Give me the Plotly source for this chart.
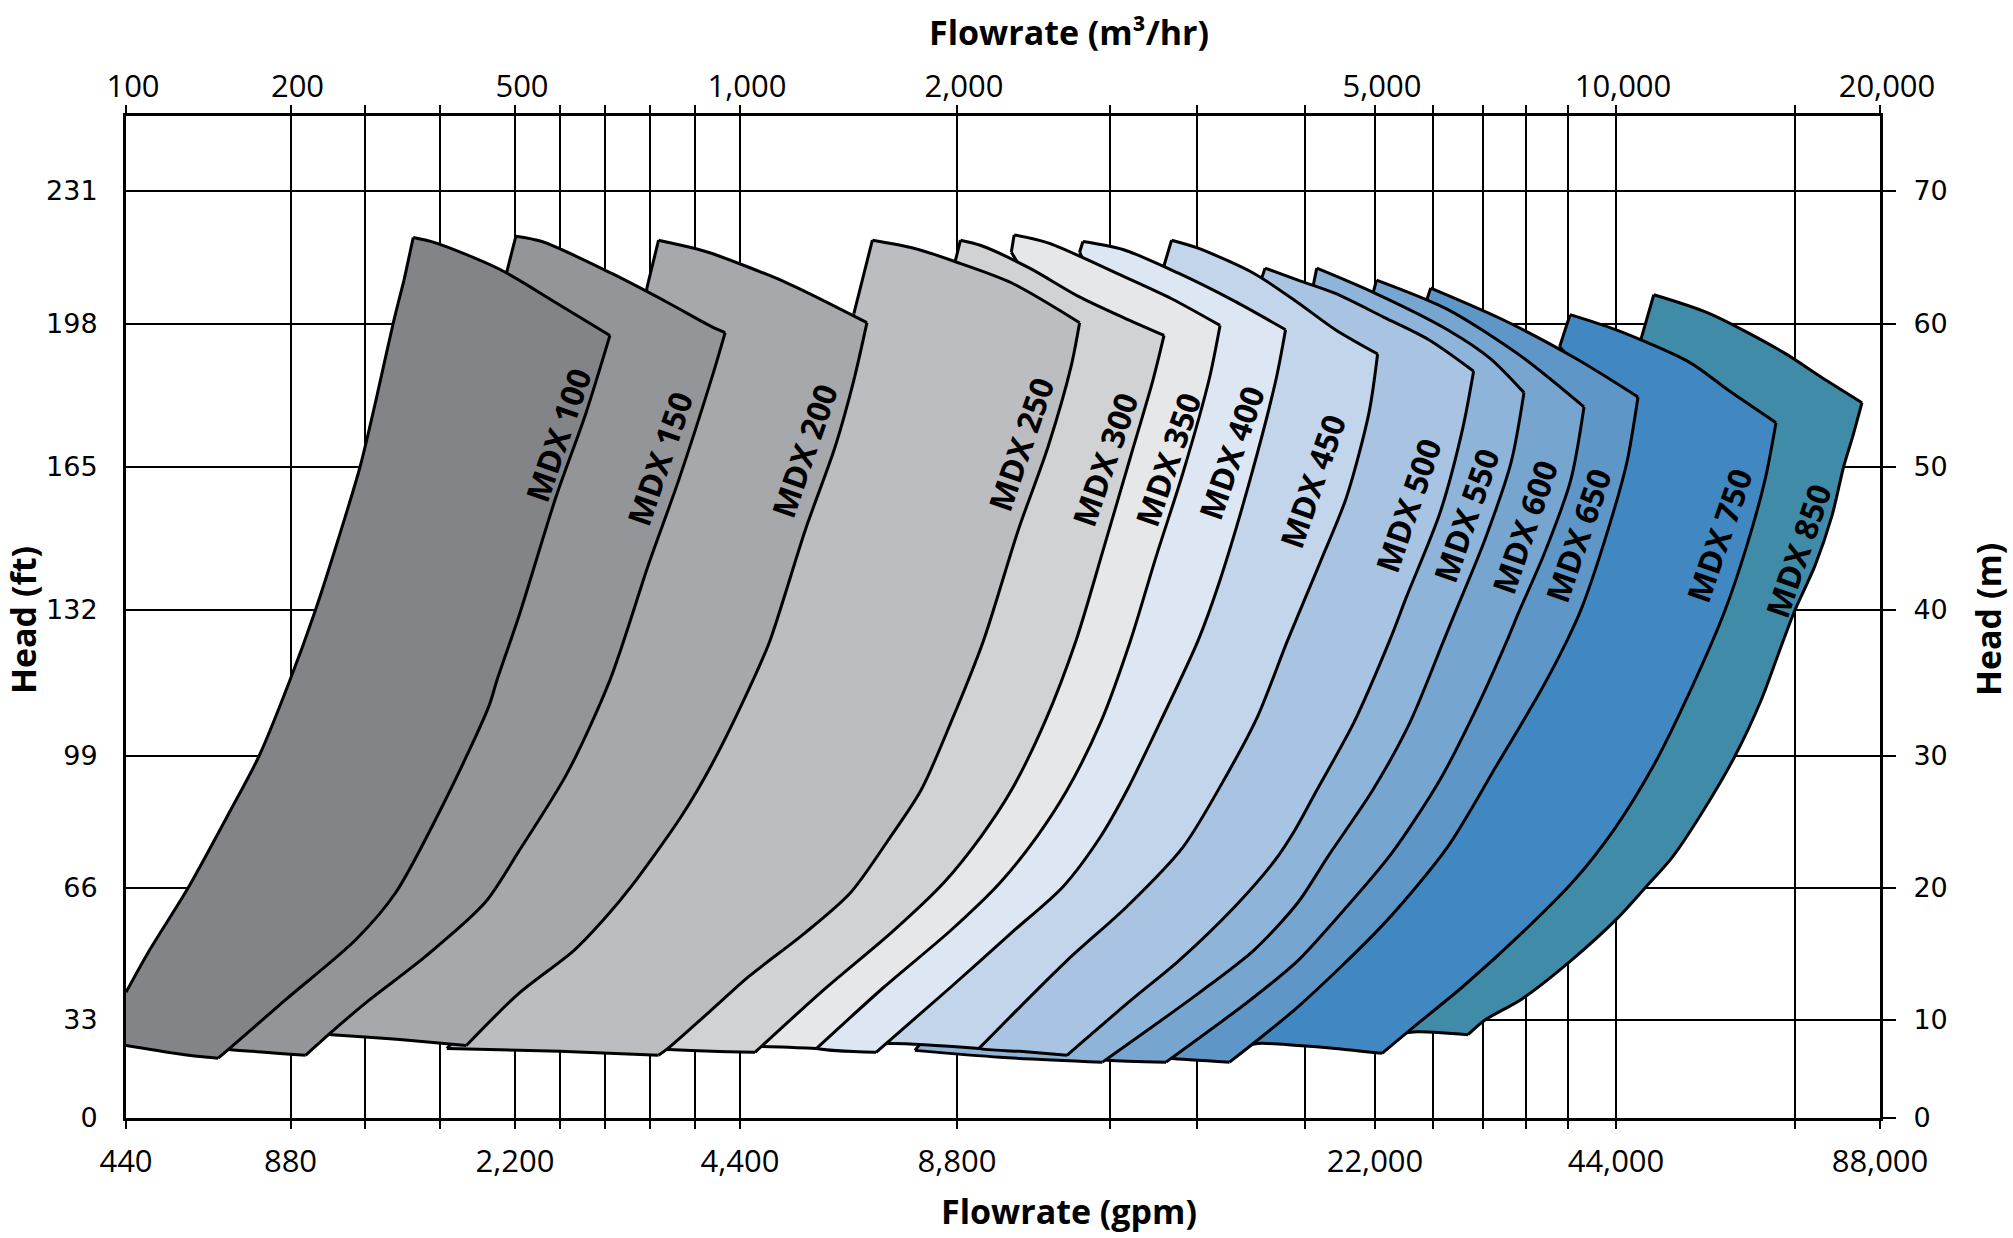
import numpy as np
import plotly.graph_objects as go

# ---------------- axis tick values ----------------
FLOW_TICKS_M3H = [100, 200, 500, 1000, 2000, 5000, 10000, 20000]
FLOW_TICKS_GPM = [440, 880, 2200, 4400, 8800, 22000, 44000, 88000]
FLOW_GRID_M3H = [300, 400, 600, 700, 800, 900, 3100, 3720, 4500, 6200, 7240, 8130, 9000, 16780]
HEAD_TICKS_M = [0, 10, 20, 30, 40, 50, 60, 70]
HEAD_TICKS_FT = [0, 33, 66, 99, 132, 165, 198, 231]

# ---------------- pump envelopes: flow (m3/hr), head (m) ----------------
# each outline runs: top-left corner, top curve, right curve, bottom, left side (back to start)
MODELS = ["MDX 100", "MDX 150", "MDX 200", "MDX 250", "MDX 300", "MDX 350", "MDX 400",
          "MDX 450", "MDX 500", "MDX 550", "MDX 600", "MDX 650", "MDX 750", "MDX 850"]

MDX100_FLOW = [364, 394, 480, 591, 711, 658, 591, 511, 476, 465, 409, 340, 287.5, 196.7, 163, 156,
               143, 129.5, 100, 100, 113.4, 137.7, 161.4, 180.9, 199.7, 232.7, 263.5, 292.9, 314.3, 337, 351.7]
MDX100_HEAD = [66.5, 66.1, 64.1, 61.6, 59.2, 53.8, 47.9, 39.8, 35.2, 33.4, 26.9, 19.6, 16.1, 11.5, 7.1, 6.1,
               6.3, 6.6, 7.4, 12.1, 15.1, 20.0, 25.4, 30.0, 35.2, 39.9, 44.9, 50.0, 54.7, 60.0, 63.3]

MDX150_FLOW = [502, 560, 715, 840, 938, 967, 938, 864, 798, 711, 616, 507, 460, 380, 305, 255, 220,
               162.5, 145, 212.7, 373, 480, 488]
MDX150_HEAD = [66.6, 66.2, 63.8, 61.6, 59.8, 59.4, 56.3, 49.1, 43.3, 35.2, 28.7, 22.7, 18.9, 14.8, 11.5, 8.8, 6.4,
               7.0, 7.3, 19.1, 33.8, 51.2, 63.7]

MDX200_FLOW = [819, 898, 938, 1215, 1585, 1525, 1438, 1301, 1138, 1060, 938, 869, 758, 702, 632, 508, 435,
               346, 255, 236.7, 373, 556, 756, 793]
MDX200_HEAD = [66.3, 65.7, 65.3, 63.1, 60.1, 56.1, 51.4, 45.6, 37.9, 35.2, 29.4, 25.4, 20.1, 17.8, 15.3, 12.0, 7.4,
               8.0, 8.5, 8.6, 19.1, 33.8, 51.2, 62.7]

MDX250_FLOW = [1610, 1801, 1990, 2390, 2880, 2818, 2653, 2440, 2190, 1972, 1834, 1682, 1507, 1300, 1041, 938, 840, 819,
               600, 409, 480, 778, 1161, 1424, 1525]
MDX250_HEAD = [66.3, 65.7, 64.7, 63.1, 60.1, 57.0, 51.4, 45.6, 37.9, 32.3, 27.4, 23.6, 19.6, 16.6, 13.3, 10.8, 7.1, 6.4,
               6.8, 7.1, 12.3, 26.7, 44.2, 54.7, 60.8]

MDX300_FLOW = [2025, 2172, 2521, 2868, 3191, 3486, 3407, 3245, 3055, 2854, 2629, 2390, 2172, 1939, 1696, 1387, 1069,
               938, 840, 789, 889, 1115, 1737, 2165, 2452, 1990]
MDX300_HEAD = [66.3, 65.9, 64.2, 62.1, 60.5, 59.2, 56.1, 50.7, 44.4, 37.9, 32.3, 27.4, 23.9, 20.4, 16.6, 12.3, 6.7,
               6.8, 7.0, 7.1, 10.6, 15.3, 28.2, 40.7, 51.2, 64.6]

MDX350_FLOW = [2410, 2653, 3191, 3540, 3888, 3809, 3622, 3428, 3245, 3031, 2789, 2574, 2309, 1972, 1664, 1353,
               1101, 1000, 1230, 1829, 2596, 3098, 2390]
MDX350_HEAD = [66.7, 66.1, 63.6, 61.9, 59.9, 56.1, 49.6, 43.7, 37.9, 32.3, 27.4, 23.9, 20.4, 16.8, 12.5, 7.1,
               7.3, 7.3, 11.1, 20.6, 36.6, 49.8, 65.4]

MDX400_FLOW = [2904, 3191, 3593, 3995, 4358, 4289, 4103, 3888, 3730, 3457, 3220, 3031, 2761, 2390, 1972, 1627,
               1353, 1300, 1507, 2020, 2919, 3457, 2880]
MDX400_HEAD = [66.2, 65.6, 63.8, 61.7, 59.6, 56.1, 49.1, 42.1, 37.9, 32.3, 27.4, 23.9, 20.1, 16.6, 12.5, 6.7,
               7.1, 7.6, 11.3, 18.7, 33.8, 49.1, 65.4]

MDX450_FLOW = [3540, 3730, 4132, 4447, 4716, 5054, 4957, 4796, 4605, 4372, 4157, 3943, 3622, 3220, 2789, 2158,
               1680, 1608, 1829, 2524, 3313, 3959, 3486]
MDX450_HEAD = [66.3, 65.7, 63.8, 61.6, 59.6, 57.9, 53.8, 47.9, 43.3, 37.9, 32.7, 28.7, 23.1, 18.6, 14.5, 7.1,
               7.6, 7.3, 11.7, 18.9, 32.3, 48.7, 64.4]

MDX500_FLOW = [4211, 4447, 4716, 5187, 6116, 7046, 6813, 6349, 5651, 5303, 4849, 4582, 4426, 4282, 3995, 3593, 3249, 2789,
               2452, 2158, 2079, 2380, 3062, 3816, 4447, 4785, 4182]
MDX500_HEAD = [64.2, 63.3, 62.3, 60.5, 58.9, 56.7, 52.6, 46.8, 40.9, 37.9, 32.3, 27.4, 24.4, 22.1, 18.6, 14.5, 11.5, 6.4,
               6.8, 7.1, 7.7, 11.3, 18.2, 28.6, 41.7, 52.9, 63.3]

MDX550_FLOW = [4582, 4983, 6504, 7386, 8091, 7822, 7278, 6660, 6425, 5726, 4983, 4663, 4447, 4132, 3730, 3044,
               2309, 1806, 2022, 3026, 4103, 5104, 5519, 4555]
MDX550_HEAD = [64.2, 62.4, 59.6, 57.6, 55.2, 50.3, 44.9, 39.8, 37.9, 32.3, 27.4, 22.4, 18.9, 15.3, 12.0, 5.7,
               6.2, 6.9, 11.5, 19.1, 32.5, 49.1, 56.1, 62.8]

MDX600_FLOW = [5031, 6504, 8050, 9336, 9062, 8519, 7977, 7739, 7125, 6349, 5340, 4716, 4447, 4103, 3500,
               3084, 2955, 3385, 4175, 5104, 6971, 7490, 4983]
MDX600_HEAD = [63.3, 61.1, 57.7, 54.2, 49.1, 44.0, 39.8, 37.9, 33.4, 28.2, 22.6, 17.6, 14.5, 11.5, 5.7,
               5.9, 6.1, 11.5, 19.1, 31.1, 46.3, 53.3, 62.2]

MDX650_FLOW = [6156, 7666, 9212, 10833, 10409, 9834, 9295, 8983, 8444, 7510, 6504, 5187, 4447, 3956,
               3527, 3421, 3888, 4605, 6556, 8216, 8838, 6037]
MDX650_HEAD = [62.7, 60.3, 57.5, 54.9, 50.3, 45.6, 40.2, 37.9, 34.5, 29.2, 23.1, 17.3, 11.0, 5.7,
               6.1, 6.3, 11.5, 19.1, 32.5, 45.6, 53.3, 61.4]

MDX750_FLOW = [9046, 9992, 12803, 14231, 16061, 15644, 14939, 14091, 12538, 11402, 9992, 9139, 8050, 6813, 5805, 5145,
               4716, 4447, 4157, 4031, 4333, 5353, 7697, 9357, 9979, 8830]
MDX750_HEAD = [60.7, 59.6, 57.3, 55.4, 53.1, 49.1, 44.4, 39.8, 33.4, 29.2, 24.6, 20.6, 16.6, 12.5, 9.3, 6.6,
               7.1, 7.4, 7.6, 7.1, 11.3, 19.6, 32.3, 43.1, 52.9, 58.4]

MDX850_FLOW = [11432, 13523, 16356, 17765, 19318, 18977, 18621, 18182, 17538, 16780, 16212, 15492, 14508, 13258, 12121,
               11098, 10000, 9066, 8050, 7282, 6929, 5884, 5415, 6349, 8734, 12235, 14697, 10909]
MDX850_HEAD = [62.2, 60.8, 58.0, 56.3, 54.5, 52.2, 50.0, 46.6, 43.1, 40.0, 37.3, 33.8, 30.0, 25.7, 22.3,
               20.0, 17.6, 14.5, 11.6, 10.0, 8.5, 8.8, 8.5, 12.1, 20.5, 35.1, 47.3, 58.7]

# corner positions inside each outline: top-right, bottom-right, bottom-left, start of left side
CORNER_INDEX = [(4, 15, 18, 19), (5, 16, 18, 18), (4, 16, 19, 19), (4, 17, 19, 19), (5, 16, 19, 19),
                (4, 15, 17, 17), (4, 15, 17, 17), (5, 15, 17, 17), (5, 17, 20, 20), (4, 15, 17, 17),
                (3, 14, 16, 16), (3, 13, 15, 15), (4, 15, 19, 19), (4, 20, 22, 22)]

LABEL_FLOW = [595, 821, 1293, 2454, 3062, 3514, 3969, 4548, 5685, 6888, 8091, 9212, 13902, 16879]
LABEL_HEAD = [52.2, 50.6, 51.1, 51.6, 50.5, 50.5, 51.0, 49.0, 47.3, 46.6, 45.8, 45.2, 45.2, 44.1]

# ---------------- styling ----------------
FILL_COLORS = ["#838488", "#949599", "#a7a8ab", "#bcbdc0", "#d1d2d4", "#e6e7e9", "#dde7f3",
               "#c3d5eb", "#a8c4e2", "#8fb4d9", "#76a5d0", "#5e96c8", "#4188c2", "#408ba8"]

# The chart's own hand-spaced (non-uniform) scales: spacing of the labelled ticks
FLOW_SCALE_STOPS = [0, 164.5, 389, 614, 831, 1249, 1490, 1754]
HEAD_SCALE_STOPS = [0, 98, 230, 362, 508, 651, 794, 927]
HEAD_SCALE_TOP = 1002


def flow_scale(q):
    return np.interp(np.asarray(q, dtype=float), FLOW_TICKS_M3H, FLOW_SCALE_STOPS)


def head_scale(h):
    return np.interp(np.asarray(h, dtype=float), HEAD_TICKS_M, HEAD_SCALE_STOPS)


series = [
    (MDX100_FLOW, MDX100_HEAD), (MDX150_FLOW, MDX150_HEAD), (MDX200_FLOW, MDX200_HEAD),
    (MDX250_FLOW, MDX250_HEAD), (MDX300_FLOW, MDX300_HEAD), (MDX350_FLOW, MDX350_HEAD),
    (MDX400_FLOW, MDX400_HEAD), (MDX450_FLOW, MDX450_HEAD), (MDX500_FLOW, MDX500_HEAD),
    (MDX550_FLOW, MDX550_HEAD), (MDX600_FLOW, MDX600_HEAD), (MDX650_FLOW, MDX650_HEAD),
    (MDX750_FLOW, MDX750_HEAD), (MDX850_FLOW, MDX850_HEAD),
]

fig = go.Figure()

# largest pump at the back, smallest on top
for i in reversed(range(len(MODELS))):
    q, h = series[i]
    xs = list(flow_scale(q))
    ys = list(head_scale(h))
    n = len(xs)
    itr, ibr, ibl, il = CORNER_INDEX[i]
    # filled body
    fig.add_trace(go.Scatter(
        x=xs + xs[:1], y=ys + ys[:1], mode="lines", fill="toself", fillcolor=FILL_COLORS[i],
        line=dict(width=0, color=FILL_COLORS[i]), name=MODELS[i], hoverinfo="skip", showlegend=False,
    ))
    # smooth outline, one curve per side
    sides = [list(range(0, itr + 1)), list(range(itr, ibr + 1)), list(range(ibr, ibl + 1)),
             list(range(il, n)), [n - 1, 0]]
    ox, oy = [], []
    for s in sides:
        ox += [xs[k] for k in s] + [None]
        oy += [ys[k] for k in s] + [None]
    fig.add_trace(go.Scatter(
        x=ox, y=oy, mode="lines", line=dict(color="black", width=3, shape="spline", smoothing=0.8),
        connectgaps=False, hoverinfo="skip", showlegend=False,
    ))

# helper trace so the secondary (top / right) axes are drawn
fig.add_trace(go.Scatter(x=[None], y=[None], xaxis="x2", yaxis="y2", showlegend=False, hoverinfo="skip"))

for i, name in enumerate(MODELS):
    fig.add_annotation(
        x=float(flow_scale(LABEL_FLOW[i])), y=float(head_scale(LABEL_HEAD[i])),
        xref="x", yref="y", text=name, showarrow=False, textangle=-71,
        font=dict(family="Open Sans", size=32, color="black", weight="bold"),
    )

grid_pos = list(flow_scale(FLOW_GRID_M3H))
bottom_vals = list(flow_scale(np.array(FLOW_TICKS_GPM) / 4.4)) + grid_pos
bottom_text = [f"{v:,}" for v in FLOW_TICKS_GPM] + [""] * len(grid_pos)
top_vals = list(flow_scale(FLOW_TICKS_M3H)) + grid_pos
top_text = [f"{v:,}" for v in FLOW_TICKS_M3H] + [""] * len(grid_pos)
head_pos = list(head_scale(HEAD_TICKS_M))

tick_font = dict(family="Open Sans", size=31, color="black")
head_font = dict(family="DejaVu Sans", size=27, color="black")
title_font = dict(family="Open Sans", size=34, color="black", weight="bold")

fig.update_layout(
    width=2013, height=1238,
    margin=dict(l=126, r=133, t=116, b=120),
    paper_bgcolor="white", plot_bgcolor="white",
    showlegend=False, hovermode=False,
    xaxis=dict(
        range=[0, FLOW_SCALE_STOPS[-1]], tickmode="array", tickvals=bottom_vals, ticktext=bottom_text,
        showgrid=True, gridcolor="black", gridwidth=2, zeroline=False,
        ticks="outside", ticklen=8, tickwidth=2, tickcolor="black",
        showline=True, linecolor="black", linewidth=3, tickfont=tick_font,
        ticklabelstandoff=6, fixedrange=True,
    ),
    xaxis2=dict(
        range=[0, FLOW_SCALE_STOPS[-1]], overlaying="x", side="top", anchor="y",
        tickmode="array", tickvals=top_vals, ticktext=top_text,
        showgrid=False, zeroline=False,
        ticks="outside", ticklen=8, tickwidth=2, tickcolor="black",
        showline=True, linecolor="black", linewidth=3, tickfont=tick_font,
        ticklabelstandoff=-4, ticklabelshift=7, fixedrange=True,
    ),
    yaxis=dict(
        range=[0, HEAD_SCALE_TOP], tickmode="array", tickvals=head_pos,
        ticktext=[str(v) for v in HEAD_TICKS_FT],
        showgrid=True, gridcolor="black", gridwidth=2, zeroline=False,
        ticks="", showline=True, linecolor="black", linewidth=3, tickfont=head_font,
        ticklabelstandoff=20, fixedrange=True,
    ),
    yaxis2=dict(
        range=[0, HEAD_SCALE_TOP], overlaying="y", side="right", anchor="x",
        tickmode="array", tickvals=head_pos, ticktext=[str(v) for v in HEAD_TICKS_M],
        showgrid=False, zeroline=False,
        ticks="outside", ticklen=13, tickwidth=2, tickcolor="black",
        showline=True, linecolor="black", linewidth=3, tickfont=head_font,
        ticklabelstandoff=12, fixedrange=True,
    ),
)

fig.add_annotation(text="Flowrate (m³/hr)", xref="paper", yref="paper", x=0.5376, y=1.0838,
                   showarrow=False, font=title_font, xanchor="center", yanchor="middle")
fig.add_annotation(text="Flowrate (gpm)", xref="paper", yref="paper", x=0.5376, y=-0.0928,
                   showarrow=False, font=title_font, xanchor="center", yanchor="middle")
fig.add_annotation(text="Head (ft)", xref="paper", yref="paper", x=-0.0587, y=0.497, textangle=-90,
                   showarrow=False, font=title_font, xanchor="center", yanchor="middle")
fig.add_annotation(text="Head (m)", xref="paper", yref="paper", x=1.0616, y=0.497, textangle=-90,
                   showarrow=False, font=title_font, xanchor="center", yanchor="middle")

fig.write_html(
    "out.html",
    config={"displayModeBar": False, "staticPlot": True},
    post_script="document.body.style.margin='0';document.body.style.overflow='hidden';",
)
